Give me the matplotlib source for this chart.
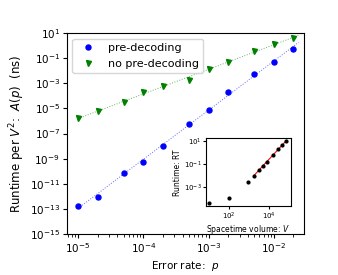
import numpy as np
import matplotlib
matplotlib.use("Agg")
import matplotlib.pyplot as plt

# error rates
p = [1e-5, 2e-5, 5e-5, 1e-4, 2e-4, 5e-4, 1e-3, 2e-3, 5e-3, 1e-2, 2e-2]
log_pre = [-12.75, -12.03, -10.12, -9.24, -8.02, -6.25, -5.13, -3.70, -2.26, -1.28, -0.25]
log_nopre = [-5.79, -5.21, -4.47, -3.72, -3.22, -2.77, -1.87, -1.31, -0.46, 0.15, 0.63]

# inset: runtime vs spacetime volume (log10)
log_V = [1.04, 2.0, 2.96, 3.25, 3.50, 3.70, 3.90, 4.21, 4.44, 4.66, 4.86]
log_RT = [-4.35, -3.92, -2.57, -2.0, -1.49, -1.15, -0.80, -0.23, 0.26, 0.66, 1.0]

pre = 10.0 ** np.array(log_pre)
nopre = 10.0 ** np.array(log_nopre)
V = 10.0 ** np.array(log_V)
RT = 10.0 ** np.array(log_RT)

fig = plt.figure(figsize=(3.38, 2.75), dpi=100)
ax = fig.add_axes([0.198, 0.149, 0.701, 0.731])

lp = np.log10(p)
xfit = np.linspace(lp[0], np.log10(2.4e-2), 50)
c1 = np.polyfit(lp, log_pre, 1)
c2 = np.polyfit(lp, log_nopre, 1)
ax.plot(10 ** xfit, 10 ** np.polyval(c1, xfit), ':', color='blue', lw=0.7, alpha=0.6)
ax.plot(10 ** xfit, 10 ** np.polyval(c2, xfit), ':', color='green', lw=0.7, alpha=0.6)
ax.plot(p, pre, 'o', color='blue', ms=3.6, label='pre-decoding')
ax.plot(p, nopre, 'v', color='green', ms=3.6, label='no pre-decoding')

ax.set_xscale('log')
ax.set_yscale('log')
ax.set_xlim(10 ** -5.17, 10 ** -1.54)
ax.set_ylim(1e-15, 1e1)
ax.set_yticks([10.0 ** k for k in range(-15, 2, 2)])
ax.yaxis.set_minor_locator(matplotlib.ticker.NullLocator())
ax.tick_params(labelsize=7.5, length=3, pad=2)
ax.tick_params(which='minor', length=1.8)
ax.set_xlabel('Error rate:  $p$', fontsize=7.5, labelpad=3)
ax.set_ylabel('Runtime per $V^2$:  $A(p)$  (ns)', fontsize=8.5, labelpad=2)
ax.legend(loc='upper left', fontsize=8, handletextpad=0.8, borderpad=0.4)

# inset
ins = fig.add_axes([0.609, 0.250, 0.251, 0.247])
m = 3
xv = np.array([log_V[m], log_V[-1]])
c3 = np.polyfit(log_V[m:], log_RT[m:], 1)
ins.plot(10 ** xv, 10 ** np.polyval(c3, xv), '-', color='red', lw=0.8)
ins.plot(V, RT, 'o', color='black', ms=2)
ins.set_xscale('log')
ins.set_yscale('log')
ins.set_xlim(10 ** 0.86, 10 ** 5.07)
ins.set_ylim(10 ** -4.63, 10 ** 1.2)
ins.set_xticks([1e2, 1e4])
ins.set_yticks([1e1, 1e-1, 1e-3])
ins.xaxis.set_minor_locator(matplotlib.ticker.NullLocator())
ins.yaxis.set_minor_locator(matplotlib.ticker.NullLocator())
ins.tick_params(labelsize=5, length=2, pad=1)
ins.set_xlabel('Spacetime volume: $V$', fontsize=5.5, labelpad=1)
ins.set_ylabel('Runtime: RT', fontsize=5.5, labelpad=1)

fig.savefig('out.png', dpi=100)
